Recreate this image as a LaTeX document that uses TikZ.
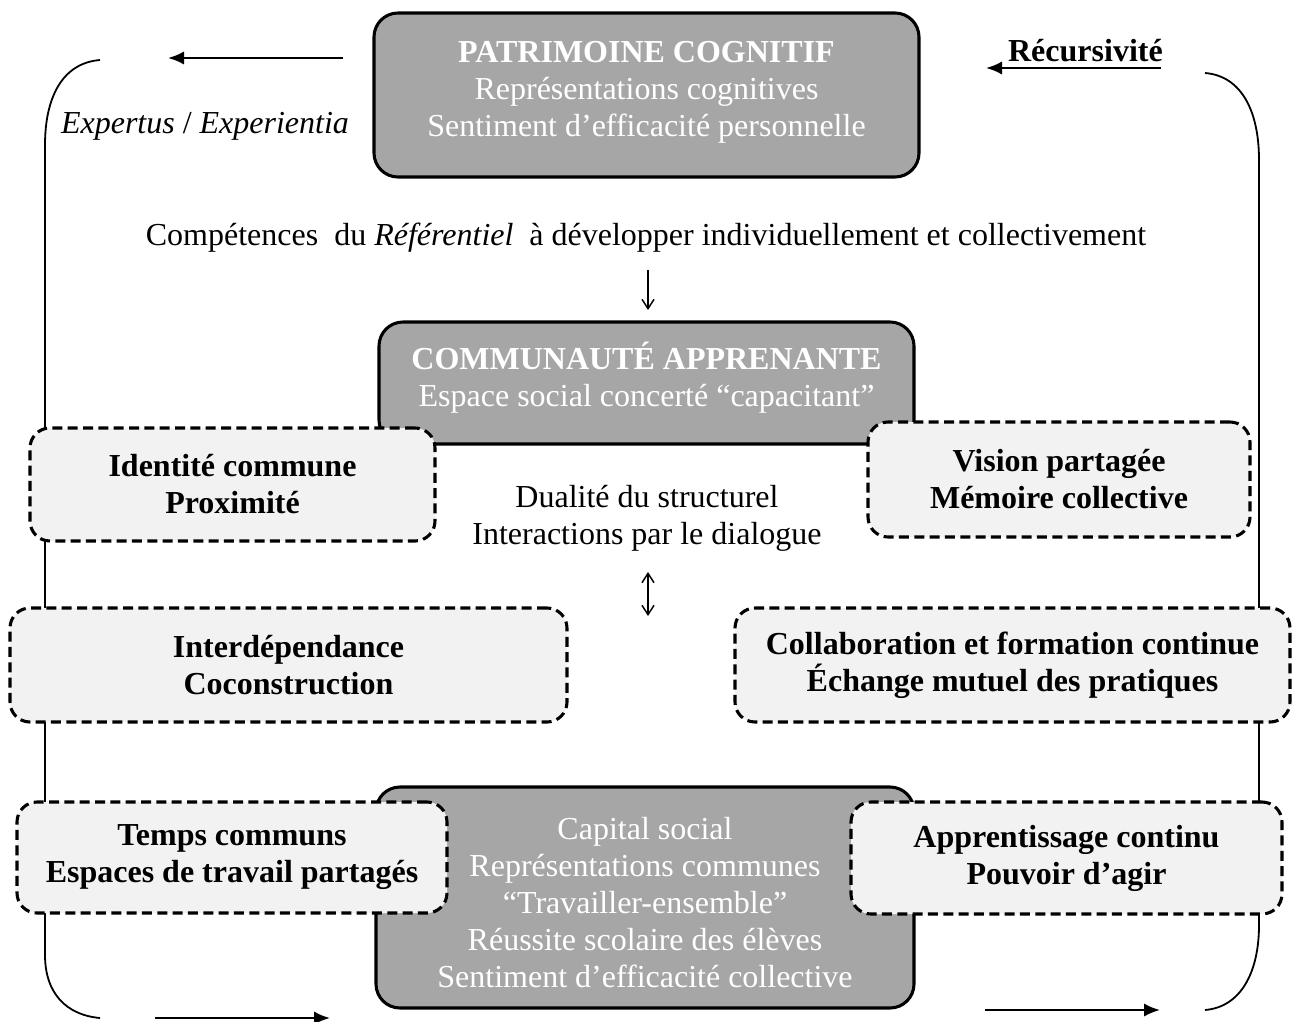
\documentclass[tikz,border=0pt]{standalone}
\usepackage{fontspec}
\setmainfont{Liberation Serif}
\usetikzlibrary{arrows.meta}
\definecolor{boxgray}{HTML}{A6A6A6}
\definecolor{panel}{HTML}{F2F2F2}
\begin{document}
\begin{tikzpicture}[x=0.75pt,y=-0.75pt,
  txt/.style={font=\fontsize{24}{27.75}\selectfont, align=center, inner sep=0pt},
  core/.style={txt, draw=black, line width=2.3pt, fill=boxgray, text=white,
    rounded corners=18pt},
  coretext/.style={txt, text=white},
  facet/.style={txt, font=\fontsize{24}{27.75}\selectfont\bfseries, draw=black,
    line width=2.3pt, dash pattern=on 7.5pt off 4pt, fill=panel,
    rounded corners=15pt},
  loop/.style={line width=1.35pt},
  flow/.style={line width=1.8pt, -{Latex[length=12pt,width=10pt]}},
  thin/.style={line width=1.1pt, -{Straight Barb[length=7pt,width=9pt]}},
  thinboth/.style={line width=1.1pt, {Straight Barb[length=7pt,width=9pt]}-{Straight Barb[length=7pt,width=9pt]}}]
\useasboundingbox (0,0) rectangle (1295,1021);

% recursive loop around the whole figure
\coordinate (ltop) at (100,60);
\coordinate (lbot) at (100,1018);
\coordinate (rtop) at (1205,73);
\coordinate (rbot) at (1205,1010);
\draw[loop] (ltop) .. controls (62,63) and (45,98) .. (45,145)
  -- (45,955) .. controls (45,993) and (66,1015) .. (lbot);
\draw[loop] (rtop) .. controls (1242,76) and (1259,112) .. (1259,160)
  -- (1259,925) .. controls (1259,972) and (1241,1007) .. (rbot);

% loop arrows
\coordinate (a1s) at (343,58);  \coordinate (a1e) at (168,58);
\coordinate (a2s) at (1161,68); \coordinate (a2e) at (986,68);
\coordinate (a3s) at (155,1018); \coordinate (a3e) at (330,1018);
\coordinate (a4s) at (985,1010); \coordinate (a4e) at (1160,1010);
\draw[flow] (a1s) -- (a1e);
\draw[flow] (a2s) -- (a2e);
\draw[flow] (a3s) -- (a3e);
\draw[flow] (a4s) -- (a4e);

\node[txt, font=\fontsize{24}{27.75}\selectfont\bfseries, anchor=base east] (recur) at (1163,61) {Récursivité};
\node[txt] (expert) at (205,126) {\textit{Expertus} / \textit{Experientia}};

% main blocks
\node[core, minimum width=408.75pt, minimum height=123pt] (patri) at (646.5,95) {};
\node[coretext] (patritxt) at (646.5,92)
  {\textbf{PATRIMOINE COGNITIF}\\Représentations cognitives\\Sentiment d’efficacité personnelle};

\node[txt] (comp) at (646,238) {Compétences\ \ du \textit{Référentiel}\ \ à développer individuellement et collectivement};

\node[core, minimum width=401.25pt, minimum height=91.5pt] (commu) at (646.5,383) {};
\node[coretext] (commutxt) at (646.5,378)
  {\textbf{COMMUNAUTÉ APPRENANTE}\\Espace social concerté “capacitant”};

\coordinate (d1) at (648,270); \coordinate (d2) at (648,310);
\draw[thin] (d1) -- (d2);

\node[core, minimum width=403.5pt, minimum height=165.75pt] (capital) at (645,897.5) {};
\node[coretext] (capitaltxt) at (645,903)
  {Capital social\\Représentations communes\\“Travailler-ensemble”\\Réussite scolaire des élèves\\Sentiment d’efficacité collective};

\node[txt] (dual) at (647,518) {Dualité du structurel\\Interactions par le dialogue};
\coordinate (u1) at (648,572); \coordinate (u2) at (648,616);
\draw[thinboth] (u1) -- (u2);

% surrounding facets
\node[facet, minimum width=303.75pt, minimum height=84.75pt] (ident) at (232.5,484.5)
  {Identité commune\\Proximité};
\node[facet, minimum width=286.5pt, minimum height=86.25pt] (vision) at (1059,479.5)
  {Vision partagée\\Mémoire collective};
\node[facet, minimum width=417.75pt, minimum height=85.5pt] (interd) at (288.5,665)
  {Interdépendance\\Coconstruction};
\node[facet, minimum width=416.25pt, minimum height=85.5pt] (collab) at (1012.5,665)
  {Collaboration et formation continue\\Échange mutuel des pratiques};
\node[facet, minimum width=322.5pt, minimum height=83.25pt] (temps) at (232,857.5)
  {Temps communs\\Espaces de travail partagés};
\node[facet, minimum width=323.25pt, minimum height=84pt] (appr) at (1066.5,858)
  {Apprentissage continu\\Pouvoir d’agir};
\end{tikzpicture}
\end{document}
